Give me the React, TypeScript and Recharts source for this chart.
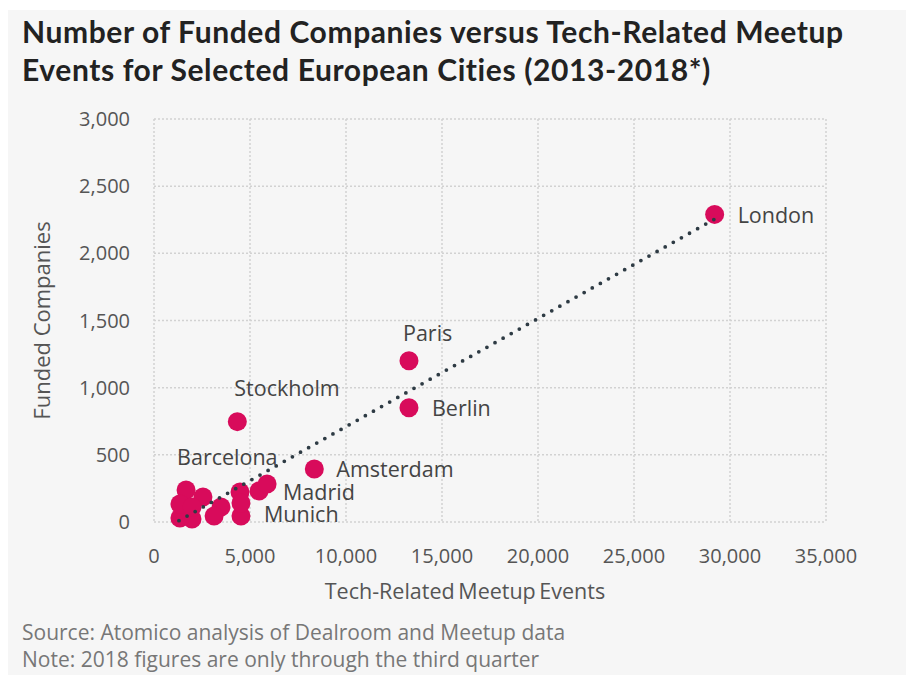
import React from 'react';
import {
  ScatterChart,
  Scatter,
  XAxis,
  YAxis,
  CartesianGrid,
} from 'recharts';

const cities = [
  'London', 'Paris', 'Berlin', 'Stockholm', 'Amsterdam', 'Madrid', 'Munich', 'Barcelona',
  '', '', '', '', '', '', '', '', '', '',
];
const meetupEvents = [
  29200, 13280, 13280, 4340, 8350, 5470, 4530, 1670,
  5890, 4480, 4530, 3490, 3130, 1980, 1350, 1350, 2550, 1980,
];
const fundedCompanies = [
  2290, 1200, 850, 747, 395, 231, 45, 238,
  283, 224, 142, 112, 45, 22, 30, 134, 186, 112,
];
const trendX = [1300, 29200];
const trendY = [10, 2255];
const xTicks = [0, 5000, 10000, 15000, 20000, 25000, 30000, 35000];
const yTicks = [0, 500, 1000, 1500, 2000, 2500, 3000];

const points = cities.map((c, i) => ({ city: c, x: meetupEvents[i], y: fundedCompanies[i] }));
const trend = trendX.map((x, i) => ({ x, y: trendY[i] }));

const labelPlacement: Record<string, { dx: number; dy: number; anchor: string }> = {
  London: { dx: 23, dy: 0, anchor: 'start' },
  Berlin: { dx: 23, dy: 0, anchor: 'start' },
  Amsterdam: { dx: 22, dy: 0, anchor: 'start' },
  Madrid: { dx: 24, dy: 1, anchor: 'start' },
  Munich: { dx: 23, dy: -2, anchor: 'start' },
  Paris: { dx: -6, dy: -28, anchor: 'start' },
  Stockholm: { dx: -3, dy: -34, anchor: 'start' },
  Barcelona: { dx: -9, dy: -34, anchor: 'start' },
};

const PINK = '#d80b5b';
const FONT = '"Open Sans", "Noto Sans", sans-serif';
const fmt = (v: number) => v.toLocaleString('en-US');

const Dot = (props: any) => {
  const { cx, cy } = props;
  if (cx == null || cy == null) return null;
  return <circle cx={cx} cy={cy} r={9.5} fill={PINK} />;
};

const CityLabel = (props: any) => {
  const { cx, cy, payload } = props;
  const p = payload && labelPlacement[payload.city];
  if (!p || cx == null) return null;
  return (
    <text
      x={cx + p.dx}
      y={cy + p.dy}
      textAnchor={p.anchor}
      dominantBaseline="central"
      fontFamily={FONT}
      fontSize={21.5}
      fill="#444"
    >
      {payload.city}
    </text>
  );
};

const Empty = () => null;

export default function App() {
  return (
    <div
      style={{
        position: 'absolute',
        left: 8,
        top: 10,
        width: 898,
        height: 665,
        background: '#f6f6f6',
        overflow: 'hidden',
      }}
    >
      <div
        style={{
          position: 'absolute',
          left: 14,
          top: 2,
          fontFamily: 'Lato, sans-serif',
          fontWeight: 700,
          fontSize: 30,
          letterSpacing: 0.6,
          lineHeight: '38px',
          color: '#222',
          whiteSpace: 'nowrap',
        }}
      >
        Number of Funded Companies versus Tech-Related Meetup
        <br />
        Events for Selected European Cities (2013-2018*)
      </div>
      <div style={{ position: 'absolute', left: 0, top: 0 }}>
        <ScatterChart
          width={898}
          height={665}
          margin={{ top: 109, right: 80, bottom: 73, left: 0 }}
        >
          <CartesianGrid stroke="#d2d2d2" strokeDasharray="2 2" strokeWidth={1.5} />
          <XAxis
            type="number"
            dataKey="x"
            domain={[0, 35000]}
            ticks={xTicks}
            tickFormatter={fmt}
            axisLine={false}
            tickLine={false}
            tickSize={8}
            tickMargin={19}
            height={80}
            tick={{ fill: '#555', fontFamily: FONT, fontSize: 20 }}
            label={{
              value: 'Tech-Related Meetup Events',
              position: 'insideBottom',
              offset: 3,
              dx: -25,
              fill: '#555',
              fontFamily: FONT,
              fontSize: 21.5,
              style: { wordSpacing: '-2px' },
            }}
          />
          <YAxis
            type="number"
            dataKey="y"
            domain={[0, 3000]}
            ticks={yTicks}
            tickFormatter={fmt}
            axisLine={false}
            tickLine={false}
            tickSize={8}
            tickMargin={16}
            width={146}
            tick={{ fill: '#555', fontFamily: FONT, fontSize: 20 }}
            label={{
              value: 'Funded Companies',
              position: 'insideLeft',
              angle: -90,
              offset: 34,
              fill: '#555',
              fontFamily: FONT,
              fontSize: 22,
              style: { textAnchor: 'middle' },
            }}
          />
          <Scatter data={points} shape={<Dot />} isAnimationActive={false} />
          <Scatter
            data={trend}
            shape={<Empty />}
            line={{
              stroke: '#2e3b44',
              strokeWidth: 3.8,
              strokeDasharray: '0 9.3',
              strokeLinecap: 'round',
            }}
            isAnimationActive={false}
          />
          <Scatter data={points} shape={<CityLabel />} isAnimationActive={false} />
        </ScatterChart>
      </div>
      <div
        style={{
          position: 'absolute',
          left: 14,
          top: 609,
          fontFamily: FONT,
          fontSize: 21,
          lineHeight: '27px',
          color: '#777',
          whiteSpace: 'nowrap',
        }}
      >
        Source: Atomico analysis of Dealroom and Meetup data
        <br />
        Note: 2018 figures are only through the third quarter
      </div>
    </div>
  );
}
